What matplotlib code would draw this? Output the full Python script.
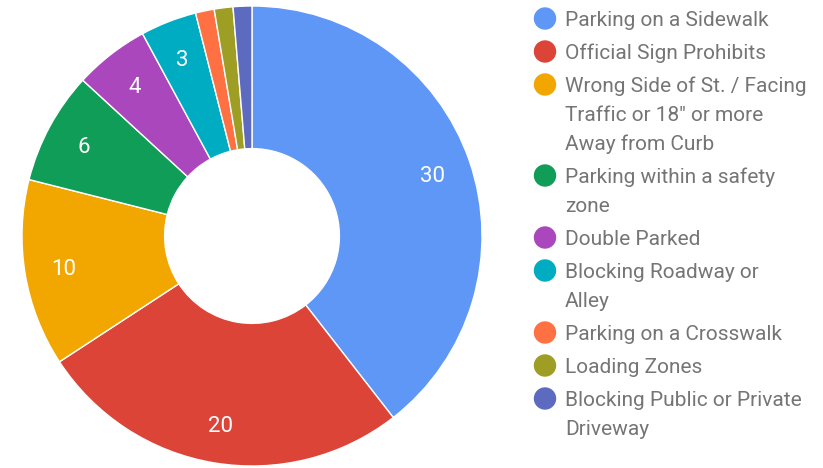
import matplotlib
matplotlib.use('Agg')
import matplotlib.pyplot as plt
from matplotlib.patches import Ellipse

plt.rcParams['font.family'] = ['Roboto', 'DejaVu Sans']

# Chart data
categories = [
    'Parking on a Sidewalk',
    'Official Sign Prohibits',
    'Wrong Side of St. / Facing\nTraffic or 18" or more\nAway from Curb',
    'Parking within a safety\nzone',
    'Double Parked',
    'Blocking Roadway or\nAlley',
    'Parking on a Crosswalk',
    'Loading Zones',
    'Blocking Public or Private\nDriveway',
]
values = [30, 20, 10, 6, 4, 3, 1, 1, 1]
colors = ['#5e97f6', '#db4437', '#f2a600', '#0f9d58', '#ab47bc',
          '#00acc1', '#ff7043', '#9e9d24', '#5c6bc0']

W, H = 823, 468
fig = plt.figure(figsize=(W / 100, H / 100), dpi=100)

# donut: center (252, 236) px, radius 230 px
cx, cy, R = 252, 236, 230
ax = fig.add_axes([(cx - R) / W, (H - cy - R) / H, 2 * R / W, 2 * R / H])
total = sum(values)


def fmt(pct):
    v = round(pct * total / 100)
    return str(v) if v >= 3 else ''


wedges, _, autotexts = ax.pie(
    values, colors=colors, startangle=90, counterclock=False,
    autopct=fmt, pctdistance=0.83, radius=1,
    wedgeprops=dict(width=0.62, edgecolor='white', linewidth=1),
    textprops=dict(color='white', fontsize=16))
for t in autotexts:
    t.set_va('center_baseline')
ax.set_xlim(-1, 1)
ax.set_ylim(-1, 1)
ax.set_aspect('equal')
ax.axis('off')

# legend on the right
y = 18.5
for cat, col in zip(categories, colors):
    fig.add_artist(Ellipse((545 / W, (H - y) / H), 21 / W, 21 / H,
                           transform=fig.transFigure, color=col))
    for i, line in enumerate(cat.split('\n')):
        fig.text(565 / W, (H - y - 7.5 - 29 * i) / H, line, fontsize=15,
                 color='#757575', va='baseline', ha='left')
    y += 33 + 29 * cat.count('\n')

fig.savefig('out.png', dpi=100)
